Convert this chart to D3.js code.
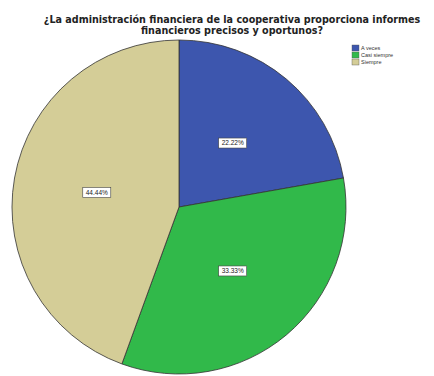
<!DOCTYPE html>
<html>
<head>
<meta charset="utf-8">
<script src="https://cdn.jsdelivr.net/npm/d3@7"></script>
<style>
  html, body { margin: 0; padding: 0; background: #fff; }
  svg { display: block; font-family: "Liberation Sans", Arial, sans-serif; }
</style>
</head>
<body>
<svg id="chart" width="434" height="376"></svg>
<script>
// Answer categories and their shares (%)
const categories = ["A veces", "Casi siempre", "Siempre"];
const percents = [22.22, 33.33, 44.44];
const colors = ["#3d56ae", "#31b94a", "#d4cd97"];
const titleLines = [
  "¿La administración financiera de la cooperativa proporciona informes",
  "financieros precisos y oportunos?"
];

const svg = d3.select("#chart");
const cx = 179, cy = 207, r = 167;

// Title
svg.append("g").selectAll("text")
  .data(titleLines)
  .join("text")
  .attr("x", 232)
  .attr("y", (d, i) => 23 + i * 10.5)
  .attr("text-anchor", "middle")
  .attr("font-family", "'DejaVu Sans', sans-serif")
  .attr("font-size", 9.6)
  .attr("font-weight", "bold")
  .attr("fill", "#222")
  .text(d => d);

// Pie
const pie = d3.pie().sort(null).value(d => d)(percents);
const arc = d3.arc().innerRadius(0).outerRadius(r);
const g = svg.append("g").attr("transform", `translate(${cx},${cy})`);

g.selectAll("path")
  .data(pie)
  .join("path")
  .attr("d", arc)
  .attr("fill", (d, i) => colors[i])
  .attr("stroke", "#333")
  .attr("stroke-width", 0.8);

// Value labels in boxed tags
const labelArc = d3.arc().innerRadius(r * 0.5).outerRadius(r * 0.5);
const fmt = v => v.toFixed(2) + "%";
const lbl = g.selectAll("g.lbl")
  .data(pie)
  .join("g")
  .attr("class", "lbl")
  .attr("transform", d => `translate(${labelArc.centroid(d)})`);

lbl.append("rect")
  .attr("x", -14).attr("y", -5)
  .attr("width", 28).attr("height", 10)
  .attr("fill", "#fff")
  .attr("stroke", "#444")
  .attr("stroke-width", 0.6);

lbl.append("text")
  .attr("text-anchor", "middle")
  .attr("dy", "0.35em")
  .attr("font-size", 6.5)
  .attr("fill", "#222")
  .text(d => fmt(d.data));

// Legend
const legend = svg.append("g").attr("transform", "translate(352,45)");
const item = legend.selectAll("g")
  .data(categories)
  .join("g")
  .attr("transform", (d, i) => `translate(0,${i * 7})`);

item.append("rect")
  .attr("width", 7).attr("height", 6)
  .attr("fill", (d, i) => colors[i])
  .attr("stroke", "#555")
  .attr("stroke-width", 0.4);

item.append("text")
  .attr("x", 9).attr("y", 5)
  .attr("font-size", 5.5)
  .attr("fill", "#333")
  .text(d => d);
</script>
</body>
</html>
